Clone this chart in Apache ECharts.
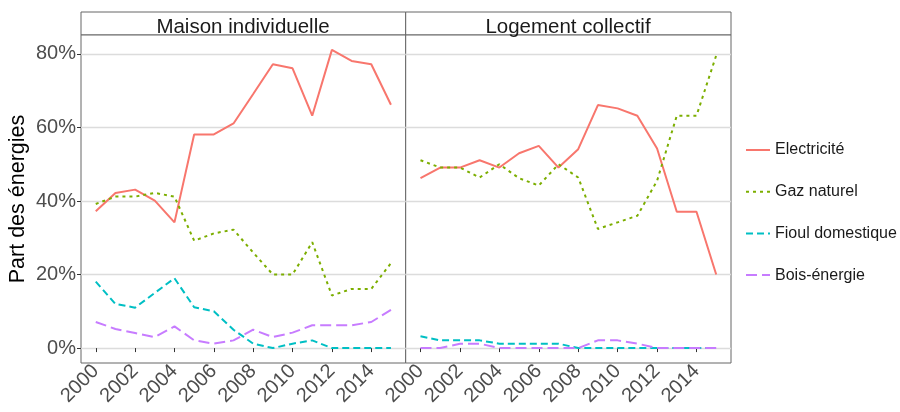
<!DOCTYPE html>
<html>
<head>
<meta charset="utf-8">
<script src="https://cdn.jsdelivr.net/npm/echarts@6/dist/echarts.min.js"></script>
<style>
  html, body { margin: 0; padding: 0; background: #fff; }
  #chart { width: 900px; height: 412px; }
</style>
</head>
<body>
<div id="chart"></div>
<script>
// années
var years = [2000,2001,2002,2003,2004,2005,2006,2007,2008,2009,2010,2011,2012,2013,2014,2015];
var xTicks = [2000,2002,2004,2006,2008,2010,2012,2014];
var yTicks = [0,20,40,60,80];
var panels = ['Maison individuelle', 'Logement collectif'];
var energies = ['Electricité', 'Gaz naturel', 'Fioul domestique', 'Bois-énergie'];

// Maison individuelle (%)
var maisonElec  = [37.2,42.2,43.1,40.1,34.2,58.1,58.1,61.1,69.1,77.2,76.1,63.2,81.1,78.1,77.2,66.2];
var maisonGaz   = [39.2,41.2,41.2,42.2,41.2,29.2,31.2,32.2,26.0,20.0,20.0,28.8,14.3,16.1,16.1,23.1];
var maisonFioul = [18.1,12.0,11.0,15.0,19.0,11.1,10.0,5.0,1.2,0,1.2,2.1,0,0,0,0];
var maisonBois  = [7.1,5.2,4.1,3.0,5.9,2.1,1.2,2.1,5.0,3.0,4.2,6.2,6.2,6.2,7.1,10.4];

// Logement collectif (%)
var collElec  = [46.2,49.1,49.1,51.1,49.1,53.0,55.0,49.1,54.1,66.1,65.2,63.2,54.3,37.1,37.1,20.0];
var collGaz   = [51.1,49.1,49.1,46.4,50.0,46.2,44.2,50.0,46.4,32.4,34.2,36.0,45.5,63.2,63.2,79.6];
var collFioul = [3.2,2.1,2.1,2.1,1.2,1.2,1.2,1.2,0,0,0,0,0,0,0,0];
var collBois  = [0,0,1.2,1.2,0,0,0,0,0,2.1,2.1,1.2,0,0,0,0];

var colors = ['#F8766D', '#7CAE00', '#00BFC4', '#C77CFF'];
var dashes = ['solid', [3,4], [7,4], [11,5]];
var font = 'Liberation Sans, Arial, sans-serif';

var pairs = function(vals){
	var out = [];
	for (var i = 0; i < years.length; i++) out.push([years[i], vals[i]]);
	return out;
};

var chart = echarts.init(document.getElementById('chart'));

var panelData = [
	[maisonElec, maisonGaz, maisonFioul, maisonBois],
	[collElec, collGaz, collFioul, collBois]
];

var series = [];
for (var p = 0; p < 2; p++) {
	for (var s = 0; s < 4; s++) {
		series.push({
			name: energies[s],
			type: 'line',
			xAxisIndex: p,
			yAxisIndex: p,
			data: pairs(panelData[p][s]),
			symbol: 'none',
			clip: false,
			lineStyle: { color: colors[s], width: 2, type: dashes[s] },
			itemStyle: { color: colors[s] }
		});
	}
}

var xAxisFn = function(idx){
	return {
		type: 'value',
		gridIndex: idx,
		min: 1999.25,
		max: 2015.75,
		axisLine: { show: false },
		axisTick: { show: true, length: 4, customValues: xTicks, lineStyle: { color: '#333' } },
		splitLine: { show: false },
		axisLabel: {
			customValues: xTicks,
			rotate: 45,
			margin: 5,
			fontSize: 20,
			color: '#4d4d4d',
			fontFamily: font,
			formatter: function(v){ return String(v); }
		}
	};
};

var yAxisFn = function(idx){
	return {
		type: 'value',
		gridIndex: idx,
		min: -4.055,
		max: 85.155,
		name: idx === 0 ? 'Part des énergies' : '',
		nameLocation: 'middle',
		nameGap: 52,
		nameTextStyle: { fontSize: 21.5, color: '#000', fontFamily: font },
		axisLine: { show: false },
		axisTick: { show: idx === 0, length: 4, customValues: yTicks, lineStyle: { color: '#333' } },
		splitLine: { show: true, lineStyle: { color: '#dcdcdc', width: 1.3 } },
		axisLabel: {
			show: idx === 0,
			customValues: yTicks,
			fontSize: 20,
			color: '#4d4d4d',
			fontFamily: font,
			margin: 5,
			formatter: function(v){ return v + '%'; }
		}
	};
};

var option = {
	animation: false,
	backgroundColor: '#fff',
	title: [
		{ text: panels[0], left: 238, top: 12, textAlign: 'center',
		  textStyle: { fontSize: 20.5, fontWeight: 'normal', color: '#1a1a1a', fontFamily: font } },
		{ text: panels[1], left: 563, top: 12, textAlign: 'center',
		  textStyle: { fontSize: 20.5, fontWeight: 'normal', color: '#1a1a1a', fontFamily: font } }
	],
	legend: {
		data: energies,
		orient: 'vertical',
		left: 740,
		top: 137,
		itemWidth: 24,
		itemHeight: 14,
		itemGap: 25.7,
		itemStyle: { opacity: 0 },
		textStyle: { fontSize: 16, color: '#1a1a1a', fontFamily: font }
	},
	grid: [
		{ left: 81, right: 494.3, top: 35, bottom: 49, show: true, borderColor: '#666', borderWidth: 1, backgroundColor: '#fff' },
		{ left: 405.7, right: 169, top: 35, bottom: 49, show: true, borderColor: '#666', borderWidth: 1, backgroundColor: '#fff' }
	],
	graphic: [
		{ type: 'rect', shape: { x: 81, y: 12, width: 324.7, height: 23 }, style: { fill: '#fff', stroke: '#666', lineWidth: 1 }, z: -1 },
		{ type: 'rect', shape: { x: 405.7, y: 12, width: 325.3, height: 23 }, style: { fill: '#fff', stroke: '#666', lineWidth: 1 }, z: -1 }
	],
	xAxis: [xAxisFn(0), xAxisFn(1)],
	yAxis: [yAxisFn(0), yAxisFn(1)],
	series: series
};

chart.setOption(option);
</script>
</body>
</html>
